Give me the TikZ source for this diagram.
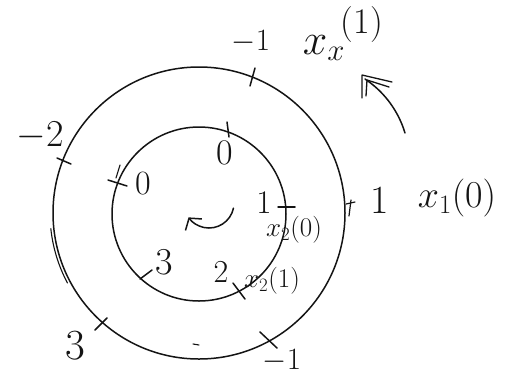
\RequirePackage{fix-cm}
\documentclass[tikz,border=0pt]{standalone}
\usetikzlibrary{arrows.meta,calc}
\begin{document}
\begin{tikzpicture}[x=1pt,y=-1pt,line cap=round,line join=round,
  ink/.style={draw=black!92,line width=1.5pt},
  lbl/.style={inner sep=0pt,text=black!92,font=\fontsize{#1}{#1}\selectfont}]
\useasboundingbox (0,0) rectangle (511,376);
\fill[white] (0,0) rectangle (511,376);
% circles
\coordinate (C) at (199,213);
\coordinate (Ci) at (199,214);
\draw[ink] (C) circle[radius=146pt];
\draw[ink] (Ci) circle[radius=87pt];
% doubled stroke on the left of the outer circle
\draw[ink,line width=1.1pt] ($(C)+(186:149pt)$) arc[start angle=186,end angle=208,radius=149pt];
% outer ticks
\coordinate (ot1) at (250,86); \coordinate (ot2) at (255,68);
\draw[ink] (ot1) -- (ot2);
\coordinate (ul1) at (57,158); \coordinate (ul2) at (71,164);
\draw[ink] (ul1) -- (ul2);
\coordinate (r1) at (346,204); \coordinate (r2) at (355,202);
\coordinate (r3) at (351,200); \coordinate (r4) at (349,216);
\draw[ink,line width=1.2pt] (r1) -- (r2) (r3) -- (r4);
\coordinate (ll1) at (95,330); \coordinate (ll2) at (107,318);
\draw[ink] (ll1) -- (ll2);
\coordinate (lr1) at (260,332); \coordinate (lr2) at (277,348);
\draw[ink] (lr1) -- (lr2);
\coordinate (bd1) at (193,344); \coordinate (bd2) at (199,345);
\draw[ink,line width=1.1pt] (bd1) -- (bd2);
% inner ticks
\coordinate (it1) at (227,122); \coordinate (it2) at (229,137);
\draw[ink] (it1) -- (it2);
\coordinate (il1) at (108,180); \coordinate (il2) at (127,186);
\draw[ink] (il1) -- (il2);
\coordinate (il3) at (120,165); \coordinate (il4) at (116,178);
\draw[ink,line width=1.1pt] (il3) -- (il4);
\coordinate (ir1) at (278,207); \coordinate (ir2) at (295,207);
\draw[ink] (ir1) -- (ir2);
\coordinate (ill1) at (140,279); \coordinate (ill2) at (152,270);
\draw[ink] (ill1) -- (ill2);
\coordinate (ilr1) at (233,283); \coordinate (ilr2) at (245,299);
\draw[ink] (ilr1) -- (ilr2);
% centre arrow
\coordinate (Ca) at (209,203);
\draw[ink,-{Straight Barb[length=8pt,width=20pt,line width=1.5pt]}] ($(Ca)+(-12:25pt)$) arc[start angle=-12,end angle=-145,radius=25pt];
% outer arrow with doubled head
\coordinate (as) at (405,133);
\coordinate (ae) at (365,79);
\coordinate (tip) at (362,75);
\draw[ink] (as) .. controls (399,113) and (386,93) .. (ae);
\coordinate (b1) at (392,82); \coordinate (b2) at (362,98);
\coordinate (t2) at (367,80); \coordinate (b3) at (389,87); \coordinate (b4) at (366,96);
\draw[ink,line width=1.3pt] (tip) -- (b1) (tip) -- (b2) (t2) -- (b3) (t2) -- (b4);
% labels outer
\node[lbl=31] (lm1top) at (251,42) {$-1$};
\node[lbl=44] (lxt) at (324,48) {$x_{x}$};
\node[lbl=36] (lxs) at (362,25) {(1)};
\node[lbl=38] (lm2) at (40,136) {$-2$};
\node[lbl=40] (l1r) at (380,200) {1};
\node[lbl=38] (lx10) at (457,198) {$x_{1}(0)$};
\node[lbl=43] (l3o) at (75,346) {3};
\node[lbl=31] (lm1bot) at (282,361) {$-1$};
% labels inner
\node[lbl=36] (l0t) at (225,153) {0};
\node[lbl=34] (l0l) at (143,184) {0};
\node[lbl=33] (l1i) at (264,203) {1};
\node[lbl=27] (lx20) at (294,230) {$x_{2}(0)$};
\node[lbl=38] (l3i) at (164,262) {3};
\node[lbl=32] (l2i) at (221,272) {2};
\node[lbl=27] (lx21) at (272,281) {$x_{2}(1)$};
\end{tikzpicture}
\end{document}
